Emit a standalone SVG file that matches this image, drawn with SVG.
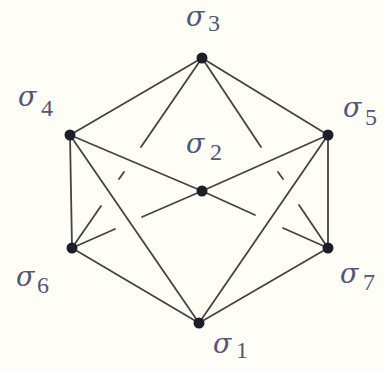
<svg xmlns="http://www.w3.org/2000/svg" width="385" height="371" viewBox="0 0 385 371">
<style>
.e{stroke:#444;stroke-width:1.8;fill:none;stroke-linecap:round}
.n{fill:#1e1e2a}
.lbl{fill:#55557a}
.s{font-family:"DejaVu Serif","Liberation Serif",serif;font-style:italic;font-size:27px}
.d{font-family:"Liberation Serif","DejaVu Serif",serif;font-size:24px}
</style>
<rect width="385" height="371" fill="#fefdf6"/>
<g id="connectors">
<line class="e" x1="202" y1="58" x2="70" y2="135"/>
<line class="e" x1="202" y1="58" x2="328" y2="135"/>
<line class="e" x1="70" y1="135" x2="72" y2="248"/>
<line class="e" x1="328" y1="135" x2="328" y2="248"/>
<line class="e" x1="72" y1="248" x2="199" y2="323"/>
<line class="e" x1="328" y1="248" x2="199" y2="323"/>
<line class="e" x1="70" y1="135" x2="199" y2="323"/>
<line class="e" x1="328" y1="135" x2="199" y2="323"/>
<line class="e" x1="70" y1="135" x2="202" y2="191"/>
<line class="e" x1="328" y1="135" x2="202" y2="191"/>
<line class="e" x1="202" y1="58" x2="141" y2="147"/>
<line class="e" x1="124" y1="172" x2="119" y2="179"/>
<line class="e" x1="101" y1="206" x2="72" y2="248"/>
<line class="e" x1="202" y1="58" x2="261" y2="147"/>
<line class="e" x1="278" y1="172" x2="283" y2="179"/>
<line class="e" x1="299" y1="205" x2="328" y2="248"/>
<line class="e" x1="202" y1="191" x2="142" y2="217"/>
<line class="e" x1="115" y1="229" x2="72" y2="248"/>
<line class="e" x1="202" y1="191" x2="255" y2="215"/>
<line class="e" x1="283" y1="228" x2="328" y2="248"/>
</g>
<g id="s3"><circle class="n" cx="202" cy="58" r="5.5"/><text class="lbl"><tspan class="s" x="186" y="26">σ</tspan><tspan class="d" x="208" y="31">3</tspan></text></g>
<g id="s4"><circle class="n" cx="70" cy="135" r="5.5"/><text class="lbl"><tspan class="s" x="18" y="106">σ</tspan><tspan class="d" x="41" y="116">4</tspan></text></g>
<g id="s5"><circle class="n" cx="328" cy="135" r="5.5"/><text class="lbl"><tspan class="s" x="343" y="117">σ</tspan><tspan class="d" x="365" y="125">5</tspan></text></g>
<g id="s2"><circle class="n" cx="202" cy="191" r="5.5"/><text class="lbl"><tspan class="s" x="186" y="153">σ</tspan><tspan class="d" x="210" y="160">2</tspan></text></g>
<g id="s6"><circle class="n" cx="72" cy="248" r="5.5"/><text class="lbl"><tspan class="s" x="16" y="286">σ</tspan><tspan class="d" x="37" y="293">6</tspan></text></g>
<g id="s7"><circle class="n" cx="328" cy="248" r="5.5"/><text class="lbl"><tspan class="s" x="340" y="283">σ</tspan><tspan class="d" x="363" y="290">7</tspan></text></g>
<g id="s1"><circle class="n" cx="199" cy="323" r="5.5"/><text class="lbl"><tspan class="s" x="213" y="353">σ</tspan><tspan class="d" x="236" y="358">1</tspan></text></g>
</svg>
